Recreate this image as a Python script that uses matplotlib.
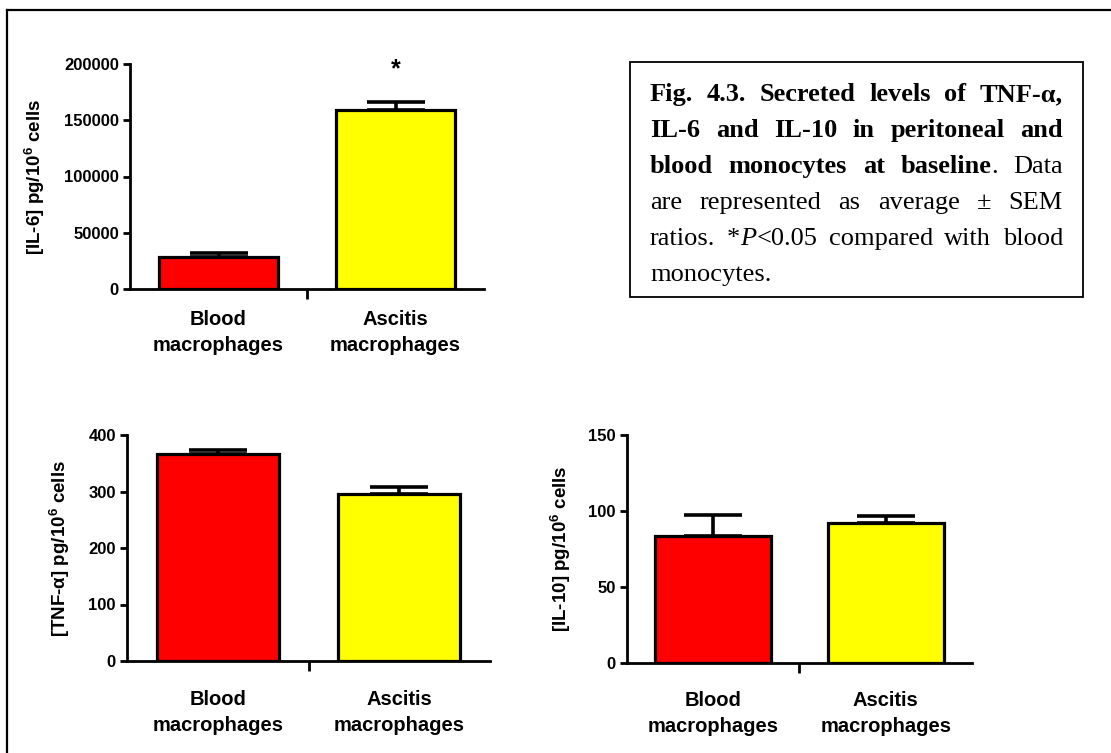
import matplotlib
matplotlib.use("Agg")
import matplotlib.pyplot as plt
from matplotlib.lines import Line2D
from matplotlib.patches import Rectangle
import numpy as np

plt.rcParams['font.family'] = 'Liberation Sans'
plt.rcParams['font.weight'] = 'bold'
plt.rcParams['mathtext.fontset'] = 'custom'
plt.rcParams['mathtext.rm'] = 'Liberation Sans:bold'
plt.rcParams['mathtext.bf'] = 'Liberation Sans:bold'

# data
categories = ['Blood\nmacrophages', 'Ascitis\nmacrophages']
colors = ['#FF0000', '#FFFF00']

il6_mean = [28500, 159300]
il6_sem = [3500, 7300]

tnf_mean = [367, 295]
tnf_sem = [7, 13]

il10_mean = [83.5, 92]
il10_sem = [14, 5]

W, H = 1111, 753
fig = plt.figure(figsize=(W / 100, H / 100), dpi=100)


def px_axes(x0, y0, x1, y1):
    # pixel box (left, top, right, bottom) -> figure fraction axes
    return fig.add_axes([x0 / W, 1 - y1 / H, (x1 - x0) / W, (y1 - y0) / H])


def prism_bars(ax, mean, sem, ymax, yticks, ylabel, label_dx, xpad):
    x = np.arange(len(mean))
    ax.bar(x, mean, width=0.67, color=colors, edgecolor='black', linewidth=2.3, zorder=2)
    ax.errorbar(x, mean, yerr=[np.zeros(len(sem)), sem], fmt='none', ecolor='black',
                elinewidth=2.6, capsize=21, capthick=2.6, zorder=3)
    ax.set_xlim(-0.5, 1.5)
    ax.set_ylim(0, ymax)
    ax.set_yticks(yticks)
    ax.set_yticklabels([str(v) for v in yticks], fontsize=12, fontweight='bold')
    ax.set_xticks([0.5])
    ax.set_xticklabels([''])
    ax.set_xticks(x, minor=True)
    ax.set_xticklabels(categories, minor=True, fontsize=14.5, fontweight='bold', linespacing=1.45)
    ax.tick_params(axis='x', which='minor', length=0, pad=xpad)
    ax.tick_params(axis='x', which='major', length=7, width=2, direction='out')
    ax.tick_params(axis='y', length=5, width=2, pad=3)
    for s in ['top', 'right']:
        ax.spines[s].set_visible(False)
    for s in ['left', 'bottom']:
        ax.spines[s].set_linewidth(2)
    ax.set_ylabel(ylabel, fontsize=13.5, fontweight='bold')
    bb = ax.get_position()
    ax.yaxis.set_label_coords(-label_dx / (bb.width * W), 0.5)


ax1 = px_axes(130, 64, 484, 289)
prism_bars(ax1, il6_mean, il6_sem, 200000, [0, 50000, 100000, 150000, 200000],
           r'[IL-6] pg/10$^{6}$ cells', 83, 15)
ax1.text(1, 195000, '*', ha='center', va='center', fontsize=18, fontweight='bold', clip_on=False)

ax2 = px_axes(127, 435, 490, 661)
prism_bars(ax2, tnf_mean, tnf_sem, 400, [0, 100, 200, 300, 400],
           r'[TNF-α] pg/10$^{6}$ cells', 55, 21)

ax3 = px_axes(627, 435, 972, 663)
prism_bars(ax3, il10_mean, il10_sem, 150, [0, 50, 100, 150],
           r'[IL-10] pg/10$^{6}$ cells', 54, 20)

# outer frame (left and top edges)
fig.add_artist(Line2D([7 / W, 7 / W], [0, 1 - 10 / H], transform=fig.transFigure, color='black', lw=1.6))
fig.add_artist(Line2D([7 / W, 1], [1 - 10 / H, 1 - 10 / H], transform=fig.transFigure, color='black', lw=1.6))

# caption box
fig.add_artist(Rectangle((630 / W, 1 - 297 / H), 453 / W, 235 / H, transform=fig.transFigure,
                         fill=False, edgecolor='black', lw=1.3))

serif = 'Liberation Serif'
fs = 19
B = dict(family=serif, weight='bold', style='normal')
R = dict(family=serif, weight='normal', style='normal')
I = dict(family=serif, weight='normal', style='italic')

caption = [
    [[('Fig.', B)], [('4.3.', B)], [('Secreted', B)], [('levels', B)], [('of', B)], [('TNF-α,', B)]],
    [[('IL-6', B)], [('and', B)], [('IL-10', B)], [('in', B)], [('peritoneal', B)], [('and', B)]],
    [[('blood', B)], [('monocytes', B)], [('at', B)], [('baseline', B), ('.', R)], [('Data', R)]],
    [[('are', R)], [('represented', R)], [('as', R)], [('average', R)], [('±', R)], [('SEM', R)]],
    [[('ratios.', R)], [('*', R), ('P', I), ('<0.05', R)], [('compared', R)], [('with', R)], [('blood', R)]],
    [[('monocytes.', R)]],
]

renderer = fig.canvas.get_renderer()
x_left, x_right = 650, 1063
y0, dy = 101, 36


def run_width(s, st):
    t = fig.text(0, 0, s, fontsize=fs, **st)
    w = t.get_window_extent(renderer).width
    t.remove()
    return w


for i, line in enumerate(caption):
    widths = [[run_width(s, st) for s, st in word] for word in line]
    word_w = [sum(w) for w in widths]
    if i < len(caption) - 1 and len(line) > 1:
        gap = (x_right - x_left - sum(word_w)) / (len(line) - 1)
    else:
        gap = run_width(' ', R)
    x = x_left
    y = 1 - (y0 + i * dy) / H
    for word, ws in zip(line, widths):
        for (s, st), w in zip(word, ws):
            fig.text(x / W, y, s, fontsize=fs, ha='left', va='baseline', **st)
            x += w
        x += gap

fig.savefig('out.png', dpi=100)
